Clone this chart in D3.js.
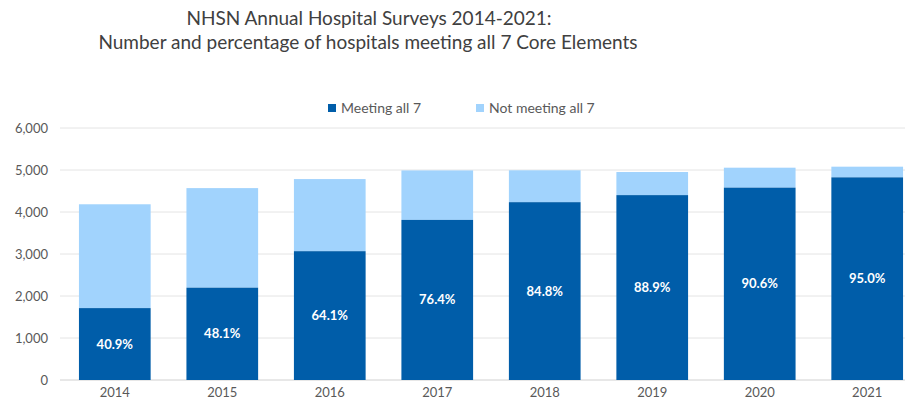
<!DOCTYPE html>
<html lang="en">
<head>
  <meta charset="UTF-8">
  <title>NHSN Annual Hospital Surveys</title>
  <style>
    body { margin: 0; background: #fff; }
  </style>
</head>
<body>
  <svg id="svg" width="911" height="400"></svg>
  <script src="https://cdn.jsdelivr.net/npm/d3@7"></script>
  <script>
    const years = ['2014', '2015', '2016', '2017', '2018', '2019', '2020', '2021']
    const totalHospitals = [4184, 4569, 4784, 4990, 4993, 4952, 5055, 5079]
    const meetingAll7 = [1712, 2198, 3067, 3812, 4234, 4402, 4580, 4825]
    const pctLabels = ['40.9%', '48.1%', '64.1%', '76.4%', '84.8%', '88.9%', '90.6%', '95.0%']
    const yTicks = [0, 1000, 2000, 3000, 4000, 5000, 6000]

    const darkBlue = '#005DA9'
    const lightBlue = '#A1D3FD'
    const textGray = '#595959'
    const font = 'Lato, "Open Sans", sans-serif'

    const svg = d3.select('#svg')

    // title
    const title = svg.append('text')
      .attr('font-family', font)
      .attr('font-size', 19)
      .attr('fill', '#404040')
      .attr('text-anchor', 'middle')
    title.append('tspan').attr('x', 369).attr('y', 25)
      .text('NHSN Annual Hospital Surveys 2014-2021:')
    title.append('tspan').attr('x', 368).attr('y', 49)
      .text('Number and percentage of hospitals meeting all 7 Core Elements')

    // scales
    const x = d3.scaleBand()
      .domain(years)
      .range([61, 921])
      .paddingInner(0.333)
      .paddingOuter(0.167)

    const y = d3.scaleLinear()
      .domain([0, 6000])
      .range([380, 128])

    // gridlines
    svg.append('g')
      .selectAll('line')
      .data(yTicks)
      .join('line')
      .attr('x1', 60)
      .attr('x2', 905)
      .attr('y1', d => y(d))
      .attr('y2', d => y(d))
      .attr('stroke', d => d === 0 ? '#d0d0d0' : '#e4e4e4')
      .attr('stroke-width', 1)

    // y axis labels
    const yAxis = svg.append('g')
      .attr('transform', 'translate(48,0)')
      .call(d3.axisLeft(y).tickValues(yTicks).tickFormat(d3.format(',')).tickSize(0).tickPadding(0))
    yAxis.select('.domain').remove()
    yAxis.selectAll('text')
      .attr('font-family', font)
      .attr('font-size', 13)
      .attr('fill', textGray)

    // x axis labels
    const xAxis = svg.append('g')
      .attr('transform', 'translate(0,388)')
      .call(d3.axisBottom(x).tickSize(0).tickPadding(0))
    xAxis.select('.domain').remove()
    xAxis.selectAll('text')
      .attr('font-family', font)
      .attr('font-size', 13)
      .attr('fill', textGray)

    const rows = years.map((yr, i) => ({
      year: yr,
      total: totalHospitals[i],
      meeting: meetingAll7[i],
      pct: pctLabels[i]
    }))

    // not meeting (stacked on top)
    svg.append('g')
      .selectAll('rect')
      .data(rows)
      .join('rect')
      .attr('x', d => x(d.year))
      .attr('width', x.bandwidth())
      .attr('y', d => y(d.total))
      .attr('height', d => y(d.meeting) - y(d.total))
      .attr('fill', lightBlue)

    // meeting all 7
    svg.append('g')
      .selectAll('rect')
      .data(rows)
      .join('rect')
      .attr('x', d => x(d.year))
      .attr('width', x.bandwidth())
      .attr('y', d => y(d.meeting))
      .attr('height', d => y(0) - y(d.meeting))
      .attr('fill', darkBlue)

    // percentage labels
    svg.append('g')
      .selectAll('text')
      .data(rows)
      .join('text')
      .attr('x', d => x(d.year) + x.bandwidth() / 2)
      .attr('y', d => (y(d.meeting) + y(0)) / 2)
      .attr('dy', '0.35em')
      .attr('text-anchor', 'middle')
      .attr('font-family', font)
      .attr('font-size', 13)
      .attr('font-weight', 'bold')
      .attr('fill', '#fff')
      .text(d => d.pct)

    // legend
    const legend = [
      { label: 'Meeting all 7', color: darkBlue, x: 328 },
      { label: 'Not meeting all 7', color: lightBlue, x: 476 }
    ]
    const lg = svg.append('g')
      .selectAll('g')
      .data(legend)
      .join('g')
      .attr('transform', d => `translate(${d.x},104)`)
    lg.append('rect')
      .attr('width', 8)
      .attr('height', 8)
      .attr('fill', d => d.color)
    lg.append('text')
      .attr('x', 13)
      .attr('y', 4)
      .attr('dy', '0.35em')
      .attr('font-family', font)
      .attr('font-size', 14)
      .attr('fill', textGray)
      .text(d => d.label)
  </script>
</body>
</html>
